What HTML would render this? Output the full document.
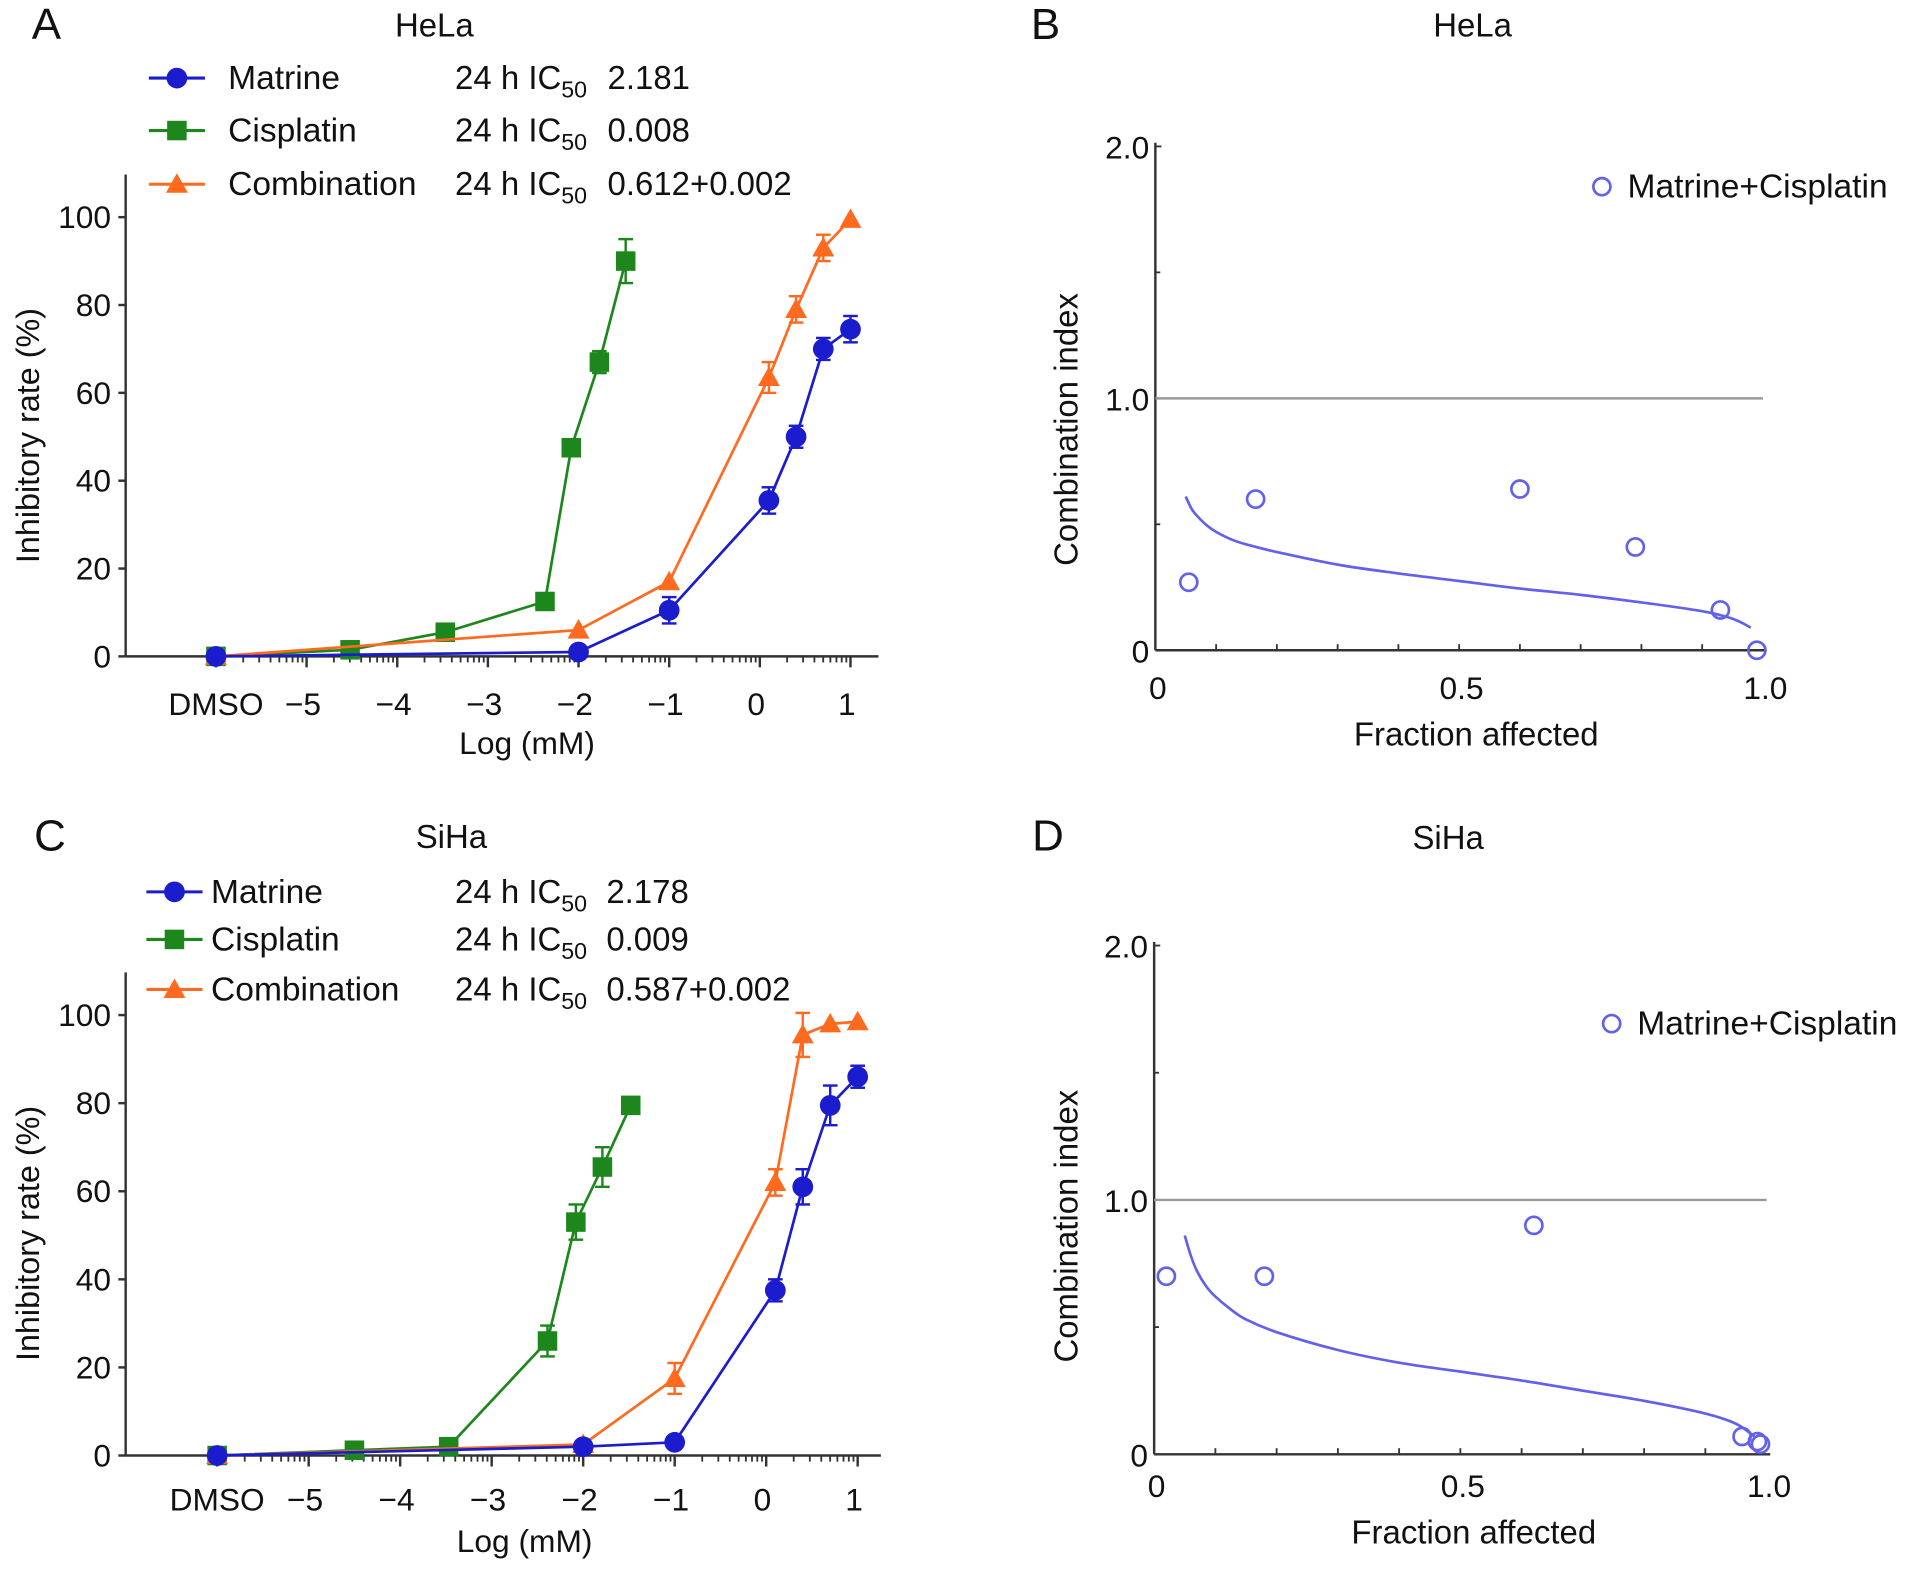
<!DOCTYPE html>
<html><head><meta charset="utf-8">
<style>
html,body{margin:0;padding:0;background:#fff;}
svg{display:block;font-family:"Liberation Sans",Arial,sans-serif;}
text{fill:#111;}
</style></head>
<body>
<svg id="fig" width="1913" height="1573" viewBox="0 0 1568 1289.3" preserveAspectRatio="none" xmlns="http://www.w3.org/2000/svg">
</svg>
<script>
// ---------- Panel A (HeLa) data ----------
const aMatX = [-6, -2, -1, 0.1, 0.4, 0.7, 1];
const aMatY = [0, 1, 10.5, 35.5, 50, 70, 74.5];
const aMatE = [1, 1, 3, 3, 2.5, 2.5, 3];
const aCisX = [-6, -4.52, -3.47, -2.37, -2.08, -1.77, -1.48];
const aCisY = [0, 1.5, 5.5, 12.5, 47.5, 67, 90];
const aCisE = [1, 1, 1, 1, 1, 2.5, 5];
const aComX = [-6, -2, -1, 0.1, 0.4, 0.7, 1];
const aComY = [0, 6, 17, 63.5, 79, 93, 99.5];
const aComE = [1, 1, 1, 3.5, 3, 3, 0.5];
// ---------- Panel C (SiHa) data ----------
const cMatX = [-6, -2, -1, 0.1, 0.4, 0.7, 1];
const cMatY = [0, 2, 3, 37.5, 61, 79.5, 86];
const cMatE = [1, 1, 1, 2.5, 4, 4.5, 2.5];
const cCisX = [-6, -4.5, -3.47, -2.39, -2.08, -1.79, -1.48];
const cCisY = [0, 1.2, 2, 26, 53, 65.5, 79.5];
const cCisE = [1, 1, 1, 3.5, 4, 4.5, 1];
const cComX = [-6, -2, -1, 0.1, 0.4, 0.7, 1];
const cComY = [0, 2.5, 17.5, 62, 95.5, 98, 98.5];
const cComE = [1, 1, 3.5, 3, 5, 1, 1];
const yTicks = [0, 20, 40, 60, 80, 100];
const xTickVals = [-5, -4, -3, -2, -1, 0, 1];
const xTickLabels = ["\u22125", "\u22124", "\u22123", "\u22122", "\u22121", "0", "1"];
// ---------- Panel B / D (CI) data ----------
const bFa = [0.055, 0.165, 0.6, 0.79, 0.93, 0.99];
const bCI = [0.27, 0.6, 0.64, 0.41, 0.16, 0.0];
const bCurveFa = [0.05, 0.06, 0.07, 0.085, 0.1, 0.125, 0.15, 0.2, 0.3, 0.4, 0.5, 0.6, 0.7, 0.8, 0.9, 0.95, 0.98];
const bCurveCI = [0.61, 0.56, 0.53, 0.495, 0.47, 0.44, 0.42, 0.39, 0.34, 0.305, 0.275, 0.245, 0.22, 0.19, 0.155, 0.125, 0.09];
const dFa = [0.02, 0.18, 0.62, 0.96, 0.985, 0.99];
const dCI = [0.7, 0.7, 0.9, 0.07, 0.05, 0.04];
const dCurveFa = [0.05, 0.06, 0.07, 0.085, 0.1, 0.125, 0.15, 0.2, 0.3, 0.4, 0.5, 0.6, 0.7, 0.8, 0.9, 0.95, 0.98];
const dCurveCI = [0.86, 0.78, 0.72, 0.66, 0.62, 0.57, 0.53, 0.48, 0.41, 0.36, 0.325, 0.29, 0.25, 0.21, 0.16, 0.12, 0.07];

const NS = "http://www.w3.org/2000/svg";
const svg = document.getElementById('fig');
function el(tag, attrs, parent) {
  const e = document.createElementNS(NS, tag);
  for (const k in attrs) e.setAttribute(k, attrs[k]);
  (parent || svg).appendChild(e);
  return e;
}
function txt(s, x, y, size, anchor, parent) {
  const t = el('text', {x: x, y: y, 'font-size': size, 'text-anchor': anchor || 'start'}, parent);
  t.textContent = s;
  return t;
}
const BLUE = '#1c1ccf', GREEN = '#1d871d', ORANGE = '#ff6a1f', CIC = '#6161ec';

function marker(kind, cx, cy, color, g) {
  let m;
  if (kind === 'circle') m = el('circle', {cx: cx, cy: cy, r: 8.5, fill: color}, g);
  else if (kind === 'square') m = el('rect', {x: cx - 8, y: cy - 8, width: 16, height: 16, fill: color}, g);
  else m = el('polygon', {points: `${cx},${cy - 9} ${cx - 9},${cy + 7} ${cx + 9},${cy + 7}`, fill: color}, g);
  return m;
}

function smoothPath(pts) {
  let d = `M${pts[0][0]},${pts[0][1]}`;
  for (let i = 0; i < pts.length - 1; i++) {
    const p0 = pts[Math.max(0, i - 1)], p1 = pts[i], p2 = pts[i + 1], p3 = pts[Math.min(pts.length - 1, i + 2)];
    const c1x = p1[0] + (p2[0] - p0[0]) / 6, c1y = p1[1] + (p2[1] - p0[1]) / 6;
    const c2x = p2[0] - (p3[0] - p1[0]) / 6, c2y = p2[1] - (p3[1] - p1[1]) / 6;
    d += ` C${c1x},${c1y} ${c2x},${c2y} ${p2[0]},${p2[1]}`;
  }
  return d;
}

function dosePanel(cfg) {
  const g = el('g', {});
  
  
  const X = v => cfg.x0 + (v + 6) * cfg.unit;
  const Y = v => cfg.y0 - v / 100 * (cfg.y0 - cfg.y100);
  const ya = el('line', {x1: cfg.ax, y1: cfg.ytop, x2: cfg.ax, y2: cfg.y0, stroke: '#333', 'stroke-width': 2}, g);
  
  
  const xa = el('line', {x1: cfg.ax, y1: cfg.y0, x2: cfg.axEnd, y2: cfg.y0, stroke: '#333', 'stroke-width': 2}, g);
  
  
  yTicks.forEach(v => {
    el('line', {x1: cfg.ax - 6, y1: Y(v), x2: cfg.ax, y2: Y(v), stroke: '#333', 'stroke-width': 2}, g);
    const t = txt(String(v), cfg.ax - 12, Y(v) + 9, 26, 'end', g);
    
    
  });
  for (let d = -6; d < 1; d++) {
    for (let k = 2; k <= 9; k++) {
      const xx = X(d + Math.log10(k));
      if (xx < cfg.ax + 8) continue;
      el('line', {x1: xx, y1: cfg.y0, x2: xx, y2: cfg.y0 + 5, stroke: '#333', 'stroke-width': 1.5}, g);
    }
  }
  xTickVals.forEach((v, i) => {
    el('line', {x1: X(v), y1: cfg.y0, x2: X(v), y2: cfg.y0 + 9, stroke: '#333', 'stroke-width': 2}, g);
    const t = txt(xTickLabels[i], X(v) - 3, cfg.xlab, 26, 'middle', g);
    
    
  });
  el('line', {x1: X(-6), y1: cfg.y0, x2: X(-6), y2: cfg.y0 + 9, stroke: '#333', 'stroke-width': 2}, g);
  const dm = txt('DMSO', X(-6), cfg.xlab, 26, 'middle', g);
  
  
  const xt = txt('Log (mM)', cfg.xtitleX, cfg.xtitleY, 26, 'middle', g);
  
  
  const yt = txt('Inhibitory rate (%)', 0, 0, 26.5, 'middle', g);
  yt.setAttribute('transform', `translate(32,${cfg.ytitleY}) rotate(-90)`);
  
  
  cfg.series.forEach(s => {
    const sg = el('g', {}, g);
    
    
    const pts = s.xs.map((v, i) => `${X(v)},${Y(s.ys[i])}`).join(' ');
    el('polyline', {points: pts, fill: 'none', stroke: s.color, 'stroke-width': 2.2}, sg);
    s.xs.forEach((v, i) => {
      const cx = X(v), cy = Y(s.ys[i]);
      const e = s.es[i];
      if (e > 1.2) {
        el('line', {x1: cx, y1: Y(s.ys[i] + e), x2: cx, y2: Y(s.ys[i] - e), stroke: s.color, 'stroke-width': 2}, sg);
        el('line', {x1: cx - 6, y1: Y(s.ys[i] + e), x2: cx + 6, y2: Y(s.ys[i] + e), stroke: s.color, 'stroke-width': 2}, sg);
        el('line', {x1: cx - 6, y1: Y(s.ys[i] - e), x2: cx + 6, y2: Y(s.ys[i] - e), stroke: s.color, 'stroke-width': 2}, sg);
      }
      const m = marker(s.kind, cx, cy, s.color, sg);
      
      
    });
  });
  cfg.legend.forEach((L, i) => {
    const lg = el('g', {}, g);
    
    
    const yy = cfg.legY[i];
    el('line', {x1: cfg.legX1, y1: yy - 9, x2: cfg.legX1 + 46, y2: yy - 9, stroke: L.color, 'stroke-width': 2.5}, lg);
    marker(L.kind, cfg.legX1 + 23, yy - 9, L.color, lg);
    txt(L.label, cfg.legText, yy, 27.5, 'start', lg);
    const ic = el('text', {x: 373, y: yy, 'font-size': 27}, lg);
    ic.innerHTML = '24 h IC<tspan font-size="19" dy="7">50</tspan>';
    txt(L.val, cfg.valX, yy, 27, 'start', lg);
  });
  const tt = txt(cfg.title, cfg.titleX, cfg.titleY, 27, 'middle', g);
  
  
  const pl = txt(cfg.letter, cfg.letterX, cfg.letterY, 36, 'start', g);
  
  
}

function ciPanel(cfg) {
  const g = el('g', {});
  
  
  const X = v => cfg.x0 + v * (cfg.x1 - cfg.x0);
  const Y = v => cfg.y0 - v / 2 * (cfg.y0 - cfg.y2);
  const ya = el('line', {x1: cfg.x0, y1: cfg.y2 - 3, x2: cfg.x0, y2: cfg.y0, stroke: '#333', 'stroke-width': 2}, g);
  
  
  const xa = el('line', {x1: cfg.x0, y1: cfg.y0, x2: cfg.x1 + 3, y2: cfg.y0, stroke: '#333', 'stroke-width': 2}, g);
  
  
  [0.5, 1.5].forEach(v => el('line', {x1: cfg.x0, y1: Y(v), x2: cfg.x0 + 4, y2: Y(v), stroke: '#333', 'stroke-width': 1.5}, g));
  [2.0, 1.0].forEach(v => el('line', {x1: cfg.x0, y1: Y(v), x2: cfg.x0 + 5, y2: Y(v), stroke: '#333', 'stroke-width': 1.5}, g));
  for (let k = 1; k < 10; k++) el('line', {x1: X(k / 10), y1: cfg.y0, x2: X(k / 10), y2: cfg.y0 - 5, stroke: '#333', 'stroke-width': 1.5}, g);
  [['2.0', 2], ['1.0', 1], ['0', 0]].forEach(p => {
    const t = txt(p[0], cfg.x0 - 5, Y(p[1]) + 10, 26, 'end', g);
    
    
  });
  [['0', 0], ['0.5', 0.5], ['1.0', 1]].forEach(p => {
    const t = txt(p[0], X(p[1]) + 2, cfg.xlab, 26, 'middle', g);
    
    
  });
  const ref = el('line', {x1: cfg.x0, y1: Y(1), x2: cfg.x1, y2: Y(1), stroke: '#999', 'stroke-width': 2}, g);
  
  
  const cpts = cfg.cfa.map((v, i) => [X(v), Y(cfg.cci[i])]);
  const cv = el('path', {d: smoothPath(cpts), fill: 'none', stroke: CIC, 'stroke-width': 2.2}, g);
  
  
  cfg.fa.forEach((v, i) => {
    const c = el('circle', {cx: X(v), cy: Y(cfg.ci[i]), r: 7, fill: 'none', stroke: CIC, 'stroke-width': 2.2}, g);
    
    
  });
  const lg = el('g', {}, g);
  
  
  el('circle', {cx: cfg.legX, cy: cfg.legY - 9, r: 7, fill: 'none', stroke: CIC, 'stroke-width': 2.2}, lg);
  txt('Matrine+Cisplatin', cfg.legX + 21, cfg.legY, 27.5, 'start', lg);
  const xt = txt('Fraction affected', cfg.xtX, cfg.xtY, 27, 'middle', g);
  
  
  const yt = txt('Combination index', 0, 0, 27, 'middle', g);
  yt.setAttribute('transform', `translate(883,${cfg.ytY}) rotate(-90)`);
  
  
  const tt = txt(cfg.title, cfg.titleX, cfg.titleY, 27, 'middle', g);
  
  
  const pl = txt(cfg.letter, cfg.letterX, cfg.letterY, 36, 'start', g);
  
  
}

dosePanel({name: 'panel-a-hela-dose-response', x0: 177, unit: 74.3, ax: 103, axEnd: 720, y0: 538, y100: 178, ytop: 143, xlab: 586,
  xtitleX: 432, xtitleY: 618, ytitleY: 357, title: 'HeLa', titleX: 356, titleY: 30, letter: 'A', letterX: 26, letterY: 32,
  legX1: 122, legText: 187, valX: 498, legY: [73, 116, 160],
  legend: [{label: 'Matrine', val: '2.181', color: BLUE, kind: 'circle'}, {label: 'Cisplatin', val: '0.008', color: GREEN, kind: 'square'}, {label: 'Combination', val: '0.612+0.002', color: ORANGE, kind: 'tri'}],
  series: [{name: 'series-cisplatin', xs: aCisX, ys: aCisY, es: aCisE, color: GREEN, kind: 'square'},
           {name: 'series-combination', xs: aComX, ys: aComY, es: aComE, color: ORANGE, kind: 'tri'},
           {name: 'series-matrine', xs: aMatX, ys: aMatY, es: aMatE, color: BLUE, kind: 'circle'}]});

dosePanel({name: 'panel-c-siha-dose-response', x0: 178, unit: 75, ax: 103, axEnd: 722, y0: 1193, y100: 832, ytop: 797, xlab: 1238,
  xtitleX: 430, xtitleY: 1272, ytitleY: 1011, title: 'SiHa', titleX: 370, titleY: 695, letter: 'C', letterX: 28, letterY: 697,
  legX1: 120, legText: 173, valX: 497, legY: [740, 779, 820],
  legend: [{label: 'Matrine', val: '2.178', color: BLUE, kind: 'circle'}, {label: 'Cisplatin', val: '0.009', color: GREEN, kind: 'square'}, {label: 'Combination', val: '0.587+0.002', color: ORANGE, kind: 'tri'}],
  series: [{name: 'series-cisplatin', xs: cCisX, ys: cCisY, es: cCisE, color: GREEN, kind: 'square'},
           {name: 'series-combination', xs: cComX, ys: cComY, es: cComE, color: ORANGE, kind: 'tri'},
           {name: 'series-matrine', xs: cMatX, ys: cMatY, es: cMatE, color: BLUE, kind: 'circle'}]});

ciPanel({name: 'panel-b-hela-combination-index', x0: 947, x1: 1445, y0: 533, y2: 120, xlab: 573, fa: bFa, ci: bCI, cfa: bCurveFa, cci: bCurveCI,
  legX: 1313, legY: 162, xtX: 1210, xtY: 611, ytY: 352, title: 'HeLa', titleX: 1207, titleY: 30, letter: 'B', letterX: 845, letterY: 32});
ciPanel({name: 'panel-d-siha-combination-index', x0: 946, x1: 1448, y0: 1192, y2: 775, xlab: 1227, fa: dFa, ci: dCI, cfa: dCurveFa, cci: dCurveCI,
  legX: 1321, legY: 848, xtX: 1208, xtY: 1265, ytY: 1005, title: 'SiHa', titleX: 1187, titleY: 696, letter: 'D', letterX: 846, letterY: 697});
</script>
</body></html>
